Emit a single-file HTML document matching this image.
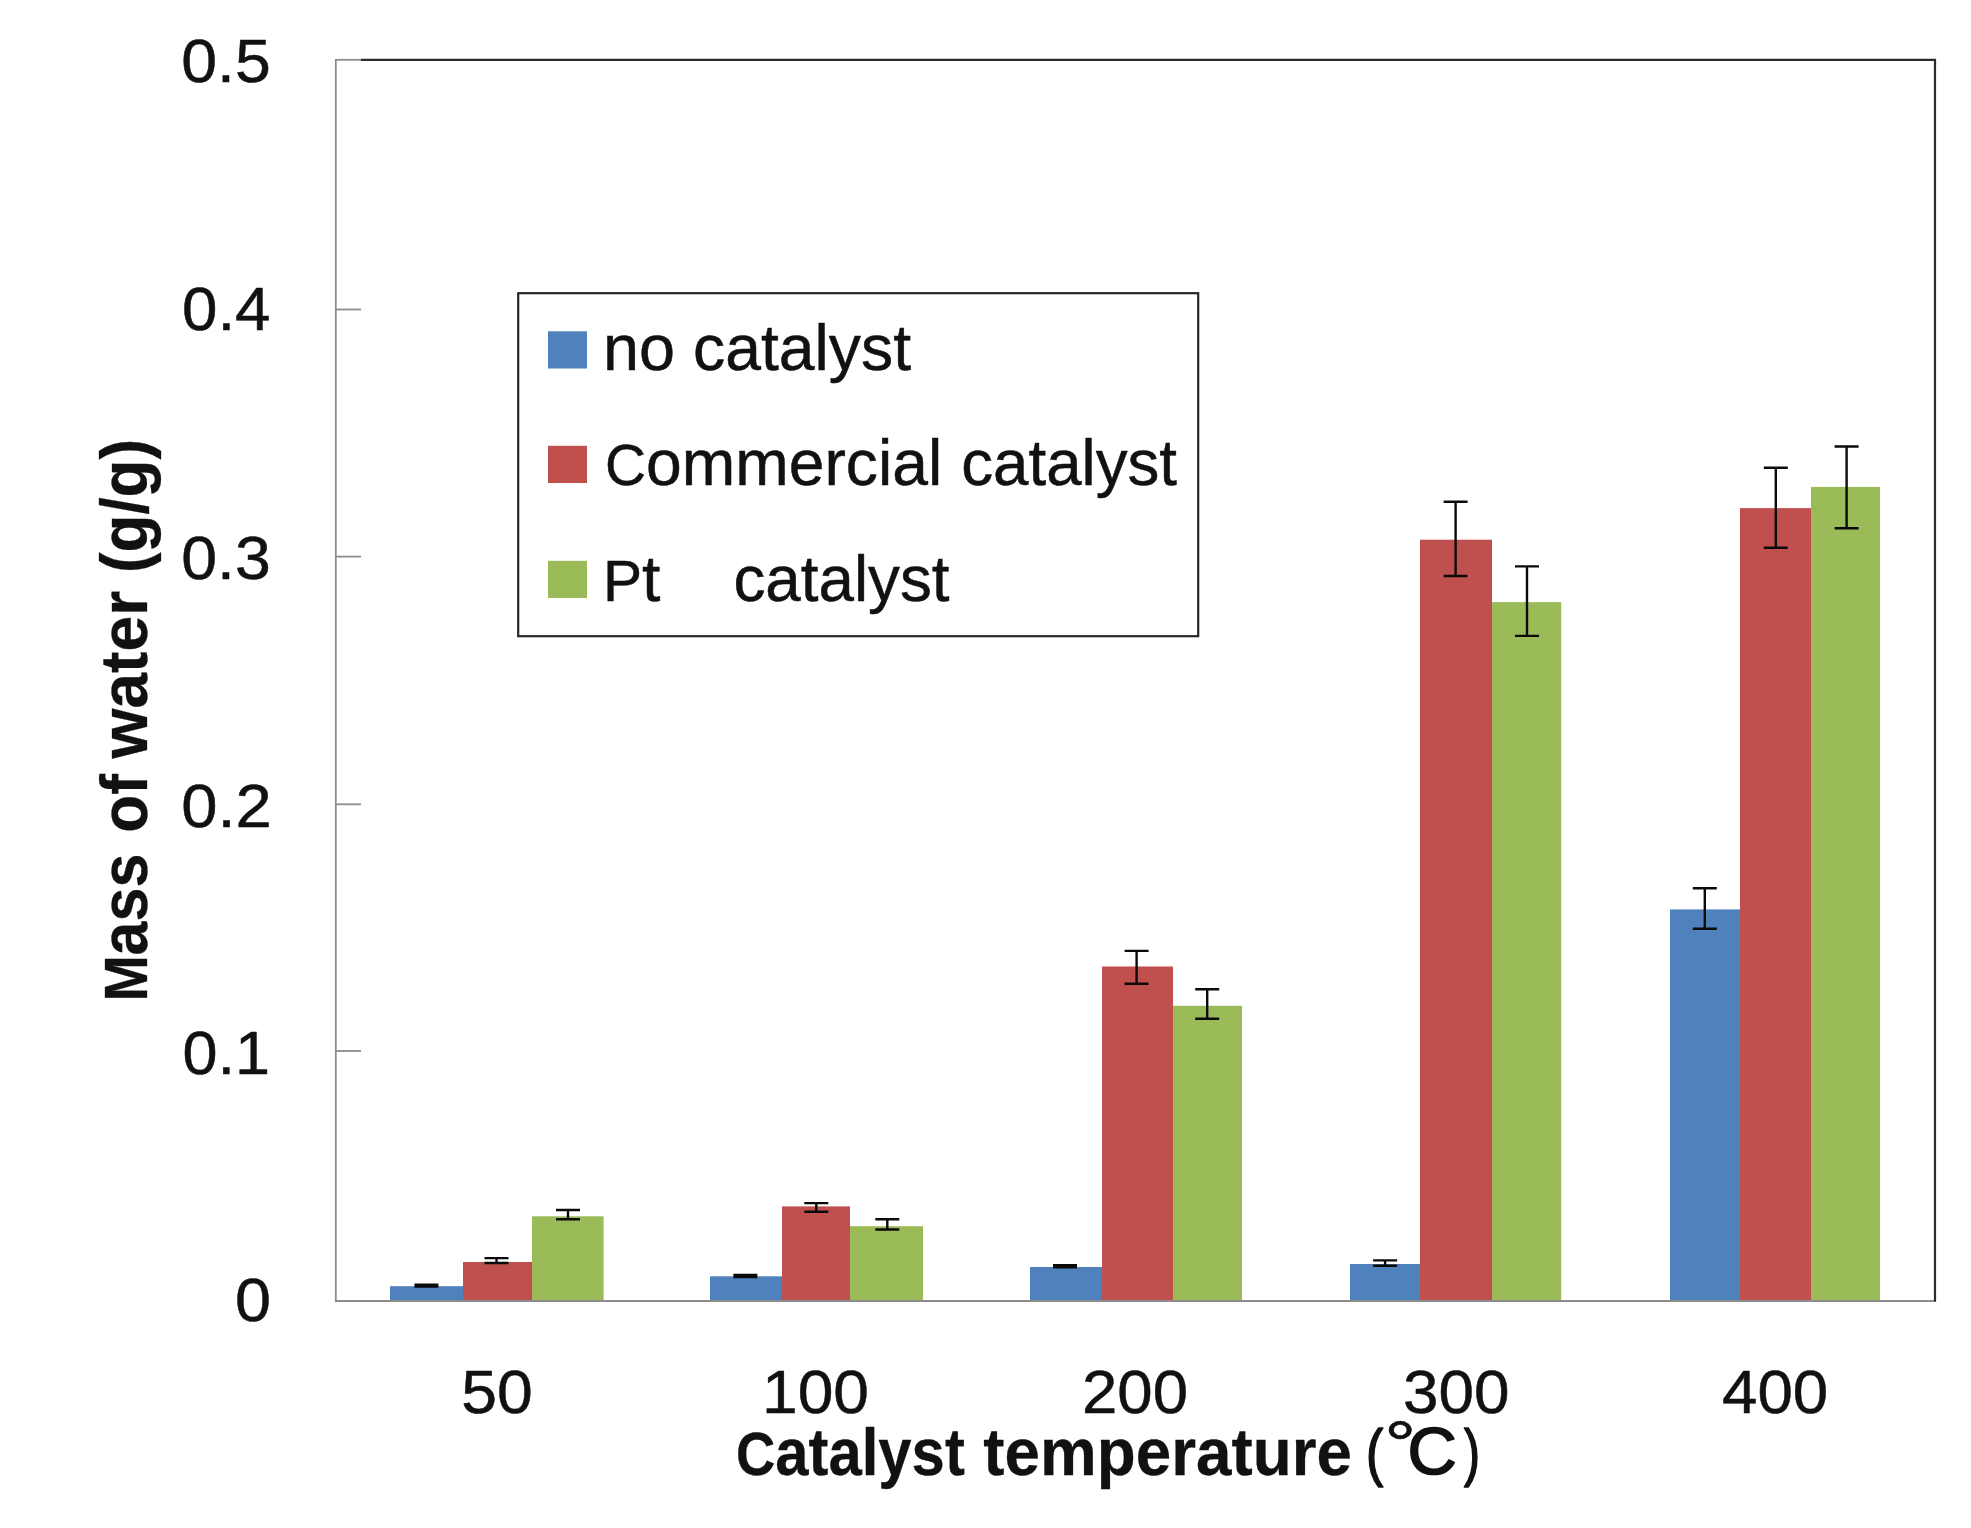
<!DOCTYPE html>
<html lang="en"><head><meta charset="utf-8"><title>Mass of water vs catalyst temperature</title>
<style>html,body{margin:0;padding:0;background:#fff}body{width:1971px;height:1528px;overflow:hidden}svg{display:block;filter:blur(.55px)}text{font-family:"Liberation Sans",sans-serif;fill:#111;stroke:#111;stroke-width:.5px;stroke-linejoin:round}text[font-weight=bold]{stroke-width:.3px}</style></head><body>
<svg width="1971" height="1528" viewBox="0 0 1971 1528">
<rect width="1971" height="1528" fill="#fff"/>
<g shape-rendering="geometricPrecision">
<rect x="390.0" y="1286.2" width="73.0" height="14.8" fill="#4F81BD"/>
<rect x="463.0" y="1262.0" width="69.0" height="39.0" fill="#C0504D"/>
<rect x="532.0" y="1216.3" width="71.6" height="84.7" fill="#9BBB59"/>
<rect x="710.0" y="1276.3" width="72.0" height="24.7" fill="#4F81BD"/>
<rect x="782.0" y="1206.4" width="68.0" height="94.6" fill="#C0504D"/>
<rect x="850.0" y="1226.2" width="73.0" height="74.8" fill="#9BBB59"/>
<rect x="1030.0" y="1267.0" width="72.0" height="34.0" fill="#4F81BD"/>
<rect x="1102.0" y="966.5" width="71.0" height="334.5" fill="#C0504D"/>
<rect x="1173.0" y="1005.8" width="69.0" height="295.2" fill="#9BBB59"/>
<rect x="1350.0" y="1264.0" width="70.0" height="37.0" fill="#4F81BD"/>
<rect x="1420.0" y="539.7" width="72.0" height="761.3" fill="#C0504D"/>
<rect x="1492.0" y="602.1" width="69.2" height="698.9" fill="#9BBB59"/>
<rect x="1670.0" y="909.4" width="70.0" height="391.6" fill="#4F81BD"/>
<rect x="1740.0" y="508.1" width="71.0" height="792.9" fill="#C0504D"/>
<rect x="1811.0" y="486.9" width="69.0" height="814.1" fill="#9BBB59"/>
</g>
<g stroke="#8c8c8c" stroke-width="1.8" fill="none">
<line x1="335.8" y1="59" x2="335.8" y2="1302"/>
<line x1="335" y1="1301" x2="1936" y2="1301"/>
<line x1="335.8" y1="59.8" x2="361" y2="59.8"/>
<line x1="335.8" y1="309.5" x2="361" y2="309.5"/>
<line x1="335.8" y1="556.6" x2="361" y2="556.6"/>
<line x1="335.8" y1="804.3" x2="361" y2="804.3"/>
<line x1="335.8" y1="1051.0" x2="361" y2="1051.0"/>
</g>
<g stroke="#2b2b2b" stroke-width="2.2" fill="none"><path d="M361 59.8 H1935 V1301.5"/></g>
<g stroke="#0a0a0a" stroke-width="2.4" fill="none">
<path d="M414.4 1284.6 H438.4 M414.4 1286.6 H438.4 M426.4 1284.6 V1286.6"/>
<path d="M484.5 1258.1 H508.5 M484.5 1263.0 H508.5 M496.5 1258.1 V1263.0"/>
<path d="M556.0 1210.0 H580.0 M556.0 1219.3 H580.0 M568.0 1210.0 V1219.3"/>
<path d="M733.4 1275.0 H757.4 M733.4 1277.0 H757.4 M745.4 1275.0 V1277.0"/>
<path d="M804.3 1203.1 H828.3 M804.3 1211.7 H828.3 M816.3 1203.1 V1211.7"/>
<path d="M875.3 1219.3 H899.3 M875.3 1229.5 H899.3 M887.3 1219.3 V1229.5"/>
<path d="M1053.0 1265.2 H1077.0 M1053.0 1267.2 H1077.0 M1065.0 1265.2 V1267.2"/>
<path d="M1124.6 950.9 H1148.6 M1124.6 983.8 H1148.6 M1136.6 950.9 V983.8"/>
<path d="M1195.2 989.3 H1219.2 M1195.2 1018.7 H1219.2 M1207.2 989.3 V1018.7"/>
<path d="M1373.1 1260.4 H1397.1 M1373.1 1265.7 H1397.1 M1385.1 1260.4 V1265.7"/>
<path d="M1443.6 501.8 H1467.6 M1443.6 576.0 H1467.6 M1455.6 501.8 V576.0"/>
<path d="M1515.0 566.4 H1539.0 M1515.0 635.9 H1539.0 M1527.0 566.4 V635.9"/>
<path d="M1692.8 888.2 H1716.8 M1692.8 928.8 H1716.8 M1704.8 888.2 V928.8"/>
<path d="M1763.8 467.8 H1787.8 M1763.8 547.7 H1787.8 M1775.8 467.8 V547.7"/>
<path d="M1834.6 446.5 H1858.6 M1834.6 528.3 H1858.6 M1846.6 446.5 V528.3"/>
</g>
<rect x="518.2" y="293.2" width="680" height="343" fill="#fff" stroke="#262626" stroke-width="2.2"/>
<rect x="548" y="331.3" width="39" height="37.2" fill="#4F81BD"/>
<rect x="548" y="445.8" width="39" height="37.2" fill="#C0504D"/>
<rect x="548" y="560.8" width="39" height="37.2" fill="#9BBB59"/>
<text x="603.00" y="370.00" font-size="65.5" textLength="72.00" lengthAdjust="spacingAndGlyphs">no</text>
<text x="693.00" y="370.00" font-size="65.5" textLength="218.00" lengthAdjust="spacingAndGlyphs">catalyst</text>
<text x="605.00" y="484.50" font-size="65.5" textLength="337.25" lengthAdjust="spacingAndGlyphs"><tspan font-size="58">C</tspan>ommercial</text>
<text x="961.25" y="484.50" font-size="65.5" textLength="215.75" lengthAdjust="spacingAndGlyphs">catalyst</text>
<text x="603.00" y="601.00" font-size="65.5" textLength="57.50" lengthAdjust="spacingAndGlyphs"><tspan font-size="58">P</tspan>t</text>
<text x="733.50" y="601.00" font-size="65.5" textLength="216.00" lengthAdjust="spacingAndGlyphs">catalyst</text>
<text x="181.20" y="82.40" font-size="61.8" textLength="89.50" lengthAdjust="spacingAndGlyphs">0.5</text>
<text x="182.00" y="329.90" font-size="61.8" textLength="88.50" lengthAdjust="spacingAndGlyphs">0.4</text>
<text x="181.20" y="578.60" font-size="61.8" textLength="89.50" lengthAdjust="spacingAndGlyphs">0.3</text>
<text x="181.20" y="827.40" font-size="61.8" textLength="90.50" lengthAdjust="spacingAndGlyphs">0.2</text>
<text x="182.50" y="1074.10" font-size="61.8" textLength="87.50" lengthAdjust="spacingAndGlyphs">0.1</text>
<text x="235.00" y="1321.20" font-size="61.8" textLength="36.00" lengthAdjust="spacingAndGlyphs">0</text>
<text x="461.25" y="1412.50" font-size="61.8" textLength="71.50" lengthAdjust="spacingAndGlyphs">50</text>
<text x="762.00" y="1412.50" font-size="61.8" textLength="107.00" lengthAdjust="spacingAndGlyphs">100</text>
<text x="1082.00" y="1412.50" font-size="61.8" textLength="106.00" lengthAdjust="spacingAndGlyphs">200</text>
<text x="1403.00" y="1412.50" font-size="61.8" textLength="106.50" lengthAdjust="spacingAndGlyphs">300</text>
<text x="1722.00" y="1412.50" font-size="61.8" textLength="106.25" lengthAdjust="spacingAndGlyphs">400</text>
<text x="736.00" y="1475.30" font-size="66.5" font-weight="bold" textLength="228.80" lengthAdjust="spacingAndGlyphs"><tspan font-size="60.5">C</tspan>atalyst</text>
<text x="983.25" y="1475.30" font-size="66.5" font-weight="bold" textLength="368.75" lengthAdjust="spacingAndGlyphs">temperature</text>
<text x="1366.00" y="1473.50" font-size="63.5" style="stroke-width:1.7px" textLength="17.20" lengthAdjust="spacingAndGlyphs">(</text>
<text x="1384.50" y="1466.00" font-size="64" style="stroke-width:.7px" textLength="31.50" lengthAdjust="spacingAndGlyphs">°</text>
<text x="1407.40" y="1474.30" font-size="66" style="stroke-width:1.7px" textLength="49.30" lengthAdjust="spacingAndGlyphs">C</text>
<text x="1464.00" y="1473.50" font-size="63.5" style="stroke-width:1.7px" textLength="16.00" lengthAdjust="spacingAndGlyphs">)</text>
<g transform="translate(147.40,1001.60) rotate(-90)"><text x="0" y="0" font-size="66.5" font-weight="bold" textLength="148.00" lengthAdjust="spacingAndGlyphs"><tspan font-size="60.5">M</tspan>ass</text></g>
<g transform="translate(147.40,832.70) rotate(-90)"><text x="0" y="0" font-size="66.5" font-weight="bold" textLength="58.70" lengthAdjust="spacingAndGlyphs">of</text></g>
<g transform="translate(147.40,758.60) rotate(-90)"><text x="0" y="0" font-size="66.5" font-weight="bold" textLength="167.80" lengthAdjust="spacingAndGlyphs">water</text></g>
<g transform="translate(147.40,573.00) rotate(-90)"><text x="0" y="0" font-size="66.5" font-weight="bold" textLength="134.00" lengthAdjust="spacingAndGlyphs">(g/g)</text></g>
</svg></body></html>
